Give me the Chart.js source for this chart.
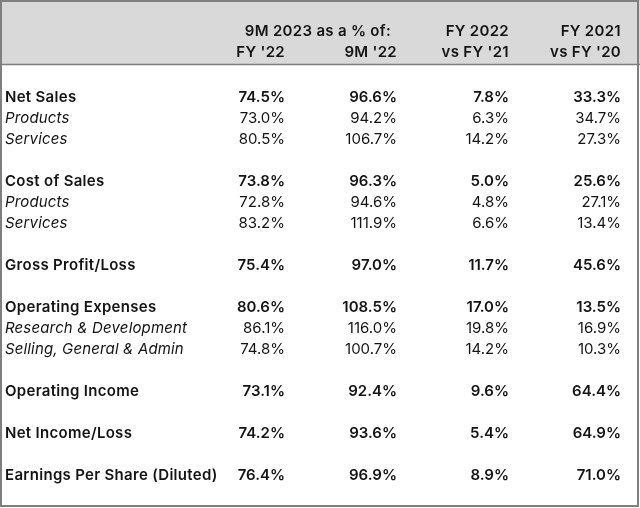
<!DOCTYPE html>
<html>
<head>
<meta charset="utf-8">
<script src="https://cdn.jsdelivr.net/npm/chart.js@4"></script>
<style>
  html, body { margin: 0; padding: 0; background: #fff; }
  canvas { display: block; }
</style>
</head>
<body>
<canvas id="tableChart" width="640" height="508"></canvas>
<script>
// table rows (slot = row position, blank slots are spacer rows)
const rowLabels = ['Net Sales', 'Products', 'Services', 'Cost of Sales', 'Products', 'Services',
    'Gross Profit/Loss', 'Operating Expenses', 'Research & Development', 'Selling, General & Admin',
    'Operating Income', 'Net Income/Loss', 'Earnings Per Share (Diluted)'];
const rowSlots = [0, 1, 2, 4, 5, 6, 8, 10, 11, 12, 14, 16, 18];
const rowIsSub = [false, true, true, false, true, true, false, false, true, true, false, false, false];

// values, in %
const pctOfFY22 = [74.5, 73.0, 80.5, 73.8, 72.8, 83.2, 75.4, 80.6, 86.1, 74.8, 73.1, 74.2, 76.4];
const pctOf9M22 = [96.6, 94.2, 106.7, 96.3, 94.6, 111.9, 97.0, 108.5, 116.0, 100.7, 92.4, 93.6, 96.9];
const fy22vsFY21 = [7.8, 6.3, 14.2, 5.0, 4.8, 6.6, 11.7, 17.0, 19.8, 14.2, 9.6, 5.4, 8.9];
const fy21vsFY20 = [33.3, 34.7, 27.3, 25.6, 27.1, 13.4, 45.6, 13.5, 16.9, 10.3, 64.4, 64.9, 71.0];

// header text
const groupHeader = '9M 2023 as a % of:';
const headTop = ['', '', 'FY 2022', 'FY 2021'];
const headBottom = ["FY '22", "9M '22", "vs FY '21", "vs FY '20"];

const columns = [pctOfFY22, pctOf9M22, fy22vsFY21, fy21vsFY20];

const FONT = 'Inter, "Open Sans", sans-serif';
const TEXT = '#141414';

const tablePlugin = {
    id: 'tableText',
    beforeDraw(chart) {
        const ctx = chart.ctx;
        const yScale = chart.scales.y;
        const bandBottom = Math.round(yScale.getPixelForValue(-1.57));
        ctx.save();
        ctx.fillStyle = '#fff';
        ctx.fillRect(0, 0, chart.width, chart.height);
        ctx.fillStyle = '#d9d9d9';
        ctx.fillRect(0, 0, chart.width, bandBottom);
        ctx.strokeStyle = '#7f7f7f';
        ctx.lineWidth = 1.5;
        ctx.beginPath();
        ctx.moveTo(0, bandBottom + 0.5);
        ctx.lineTo(chart.width, bandBottom + 0.5);
        ctx.stroke();
        ctx.lineWidth = 2;
        ctx.strokeRect(1, 1, chart.width - 3, chart.height - 3);
        ctx.restore();
    },
    afterDatasetsDraw(chart) {
        const ctx = chart.ctx;
        const xScale = chart.scales.x;
        const yScale = chart.scales.y;
        ctx.save();
        ctx.fillStyle = TEXT;
        ctx.textBaseline = 'middle';

        // header
        ctx.font = '600 15px ' + FONT;
        ctx.letterSpacing = '0.3px';
        ctx.textAlign = 'right';
        const yTop = yScale.getPixelForValue(-3.1);
        const yBot = yScale.getPixelForValue(-2.1);
        ctx.fillText(groupHeader, xScale.getPixelForValue(2) - 6, yTop);
        headTop.forEach((t, c) => { if (t) ctx.fillText(t, xScale.getPixelForValue(c + 1), yTop); });
        headBottom.forEach((t, c) => ctx.fillText(t, xScale.getPixelForValue(c + 1), yBot));

        // row labels
        ctx.textAlign = 'left';
        rowLabels.forEach((label, i) => {
            ctx.font = (rowIsSub[i] ? 'italic 400 15px ' : '600 15px ') + FONT;
            ctx.letterSpacing = rowIsSub[i] ? '0.15px' : '0.3px';
            ctx.fillText(label, 5, yScale.getPixelForValue(rowSlots[i]));
        });

        // value cells, placed by the chart's own points
        ctx.textAlign = 'right';
        ctx.letterSpacing = '0px';
        chart.data.datasets.forEach((ds, d) => {
            const meta = chart.getDatasetMeta(d);
            meta.data.forEach((el, i) => {
                ctx.font = (rowIsSub[i] ? '400 15px ' : '600 15px ') + FONT;
                ctx.fillText(ds.data[i].v.toFixed(1) + '%', el.x, el.y);
            });
        });
        ctx.restore();
    }
};

new Chart(document.getElementById('tableChart'), {
    type: 'scatter',
    data: {
        datasets: columns.map((vals, c) => ({
            label: headBottom[c],
            data: vals.map((v, i) => ({ x: c + 1, y: rowSlots[i], v: v })),
            pointRadius: 0,
            pointHoverRadius: 0
        }))
    },
    options: {
        responsive: false,
        animation: false,
        layout: { padding: { left: 285, right: 19, top: 97, bottom: 33 } },
        scales: {
            x: { type: 'linear', min: 1, max: 4, display: false },
            y: { type: 'linear', min: 0, max: 18, reverse: true, display: false }
        },
        plugins: {
            legend: { display: false },
            tooltip: { enabled: false }
        }
    },
    plugins: [tablePlugin]
});
</script>
</body>
</html>
